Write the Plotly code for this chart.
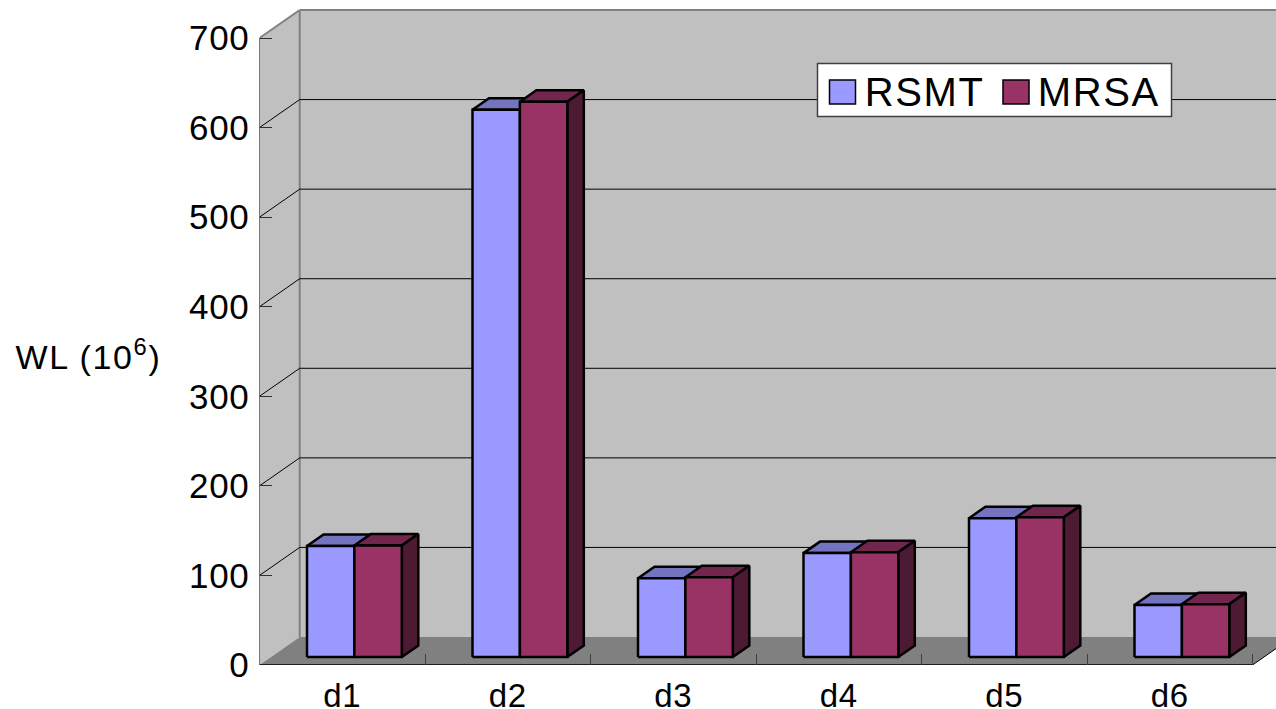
import plotly.graph_objects as go

categories = ["d1", "d2", "d3", "d4", "d5", "d6"]
rsmt = [124, 611, 88, 116, 155, 58]
mrsa = [124.5, 620, 89, 117, 156, 59]
y_ticks = [0, 100, 200, 300, 400, 500, 600, 700]
series_names = ["RSMT", "MRSA"]

W, H = 1276, 709
X0, CAT_W = 259.5, 165.5      # pixel position of the axis start, pixels per category
Y0, UNIT = 665.0, 0.8957      # pixel position of zero, pixels per value unit

XMAX = (W - X0) / CAT_W
YMAX = Y0 / UNIT
NC = len(categories)
YTOP = y_ticks[-1]

# oblique projection of the chart's depth, in axis units
WALL_DX, WALL_DY = 40.2 / CAT_W, 28 / UNIT
BASE_DY = 8 / UNIT
BAR_DX, BAR_DY = 16.5 / CAT_W, 11.5 / UNIT
GROUP_START, BAR_W = 0.2870, 0.2864

COLORS = {
    "RSMT": ("#9999FF", "#7373BF", "#4D4D80"),
    "MRSA": ("#993366", "#73264D", "#4D1A33"),
}

def poly(points):
    return "M" + " L".join(f"{x},{y}" for x, y in points) + " Z"

def line_shape(x0, y0, x1, y1, color, width, layer="below"):
    return dict(type="line", xref="x", yref="y", x0=x0, y0=y0, x1=x1, y1=y1,
                line=dict(color=color, width=width), layer=layer)

shapes = []
# walls and floor
shapes.append(dict(type="path", xref="x", yref="y", layer="below", line=dict(width=0),
                   fillcolor="#C0C0C0",
                   path=poly([(0, 0), (WALL_DX, WALL_DY), (XMAX + 1, WALL_DY),
                              (XMAX + 1, YTOP + WALL_DY), (WALL_DX, YTOP + WALL_DY), (0, YTOP)])))
shapes.append(dict(type="path", xref="x", yref="y", layer="below", line=dict(width=0),
                   fillcolor="#808080",
                   path=poly([(0, 0), (NC, 0), (NC + WALL_DX, WALL_DY), (WALL_DX, WALL_DY)])))
# wall edges
shapes.append(line_shape(0, YTOP, WALL_DX, YTOP + WALL_DY, "#808080", 2))
shapes.append(line_shape(WALL_DX, YTOP + WALL_DY, XMAX + 1, YTOP + WALL_DY, "#808080", 2))
shapes.append(line_shape(WALL_DX, WALL_DY, WALL_DX, YTOP + WALL_DY, "#808080", 2))
# gridlines, running up the side wall and across the back wall
for v in y_ticks[1:-1]:
    shapes.append(line_shape(0, v, WALL_DX, v + WALL_DY, "#000000", 1))
    shapes.append(line_shape(WALL_DX, v + WALL_DY, XMAX + 1, v + WALL_DY, "#000000", 1))
# axis lines
shapes.append(line_shape(0, 0, 0, YTOP, "#000000", 1))
shapes.append(line_shape(0, 0, NC, 0, "#000000", 1.5))
shapes.append(line_shape(NC, 0, NC + WALL_DX, WALL_DY, "#000000", 1))

def px(x):
    return x / W

def py(y):
    return 1 - y / H

# legend box and swatches
LEG_Y0, LEG_Y1 = 80, 104
shapes.append(dict(type="rect", xref="paper", yref="paper", layer="above",
                   x0=px(817.5), x1=px(1171.5), y0=py(116.5), y1=py(63.5),
                   fillcolor="#FFFFFF", line=dict(color="#404040", width=1.5)))
annotations = []
for name, sx, tx in zip(series_names, [829.5, 1003], [866, 1039]):
    shapes.append(dict(type="rect", xref="paper", yref="paper", layer="above",
                       x0=px(sx), x1=px(sx + 26), y0=py(LEG_Y1), y1=py(LEG_Y0),
                       fillcolor=COLORS[name][0], line=dict(color="#000000", width=1.5)))
    annotations.append(dict(text=name, xref="paper", yref="paper", x=px(tx), y=py(91.5),
                            xanchor="left", yanchor="middle", showarrow=False,
                            font=dict(family="Liberation Sans", size=40, color="#000000")))
annotations.append(dict(text="WL (10<sup>6</sup>)", xref="paper", yref="paper",
                        x=px(88), y=py(354), xanchor="center", yanchor="middle",
                        showarrow=False,
                        font=dict(family="Liberation Sans", size=34, color="#000000")))

fig = go.Figure()

def faces(values, index):
    top, side, front = ([], []), ([], []), ([], [])
    for i, v in enumerate(values):
        l = i + GROUP_START + index * BAR_W
        r = l + BAR_W
        b = BASE_DY
        t = v + BASE_DY
        for store, pts in (
            (front, [(l, b), (r, b), (r, t), (l, t), (l, b)]),
            (top, [(l, t), (r, t), (r + BAR_DX, t + BAR_DY), (l + BAR_DX, t + BAR_DY), (l, t)]),
            (side, [(r, b), (r + BAR_DX, b + BAR_DY), (r + BAR_DX, t + BAR_DY), (r, t), (r, b)]),
        ):
            store[0].extend([p[0] for p in pts] + [None])
            store[1].extend([p[1] for p in pts] + [None])
    return top, side, front

for idx, (name, values) in enumerate(zip(series_names, [rsmt, mrsa])):
    top, side, front = faces(values, idx)
    front_c, top_c, side_c = COLORS[name]
    for part, color, label in ((top, top_c, "top"), (side, side_c, "side"), (front, front_c, "front")):
        fig.add_trace(go.Scatter(
            x=part[0], y=part[1], mode="lines", fill="toself", fillcolor=color,
            line=dict(color="#000000", width=2.5), name=f"{name} {label}",
            showlegend=False, hoverinfo="skip" if label != "front" else "name",
        ))

fig.update_layout(
    width=W, height=H,
    margin=dict(l=0, r=0, t=0, b=0, autoexpand=False),
    paper_bgcolor="#FFFFFF", plot_bgcolor="rgba(0,0,0,0)",
    showlegend=False,
    shapes=shapes, annotations=annotations,
    font=dict(family="Liberation Sans", color="#000000"),
    xaxis=dict(
        automargin=False,
        domain=[X0 / W, 1], range=[0, XMAX], showgrid=False, zeroline=False, showline=False,
        tickmode="array", tickvals=[i + 0.5 for i in range(NC)], ticktext=categories,
        ticks="outside", ticklen=1, tickcolor="rgba(0,0,0,0)", tickfont=dict(size=33),
        minor=dict(tickmode="array", tickvals=list(range(1, NC + 1)), ticks="inside",
                   ticklen=11, tickcolor="#404040", tickwidth=1, showgrid=False),
    ),
    yaxis=dict(
        automargin=False,
        domain=[(H - Y0) / H, 1], range=[0, YMAX], showgrid=False, zeroline=False, showline=False,
        tickmode="array", tickvals=y_ticks, ticktext=[str(v) for v in y_ticks],
        ticks="inside", ticklen=12, tickcolor="#303030", tickwidth=1,
        ticklabelstandoff=9, tickfont=dict(size=35),
    ),
)

post = """
document.body.style.margin = '0';
document.querySelectorAll('.xtick text, .ytick text').forEach(t => t.style.letterSpacing = '0.7px');
document.querySelectorAll('.annotation-text').forEach(t => t.style.letterSpacing = '1.6px');
"""
fig.write_html("out.html", post_script=post, config={"displayModeBar": False})
